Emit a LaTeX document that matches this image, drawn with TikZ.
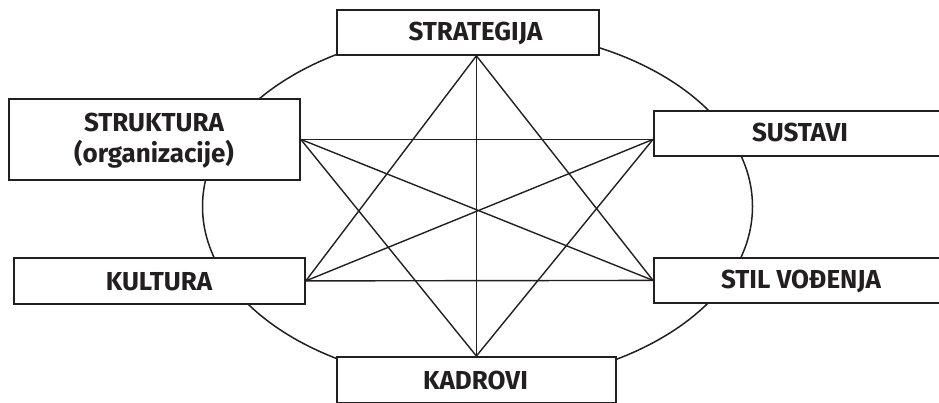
\documentclass[tikz,border=0pt]{standalone}
\usepackage{fontspec}
\setmainfont{Fira Sans}
\definecolor{ink}{HTML}{231F20}
\begin{document}
\begin{tikzpicture}[x=1pt,y=-1pt,
  box/.style={draw=ink, line width=1.8pt, fill=white, inner sep=0pt, anchor=north west},
  lbl/.style={text=ink, font=\bfseries\fontsize{26}{31}\selectfont, align=center, inner sep=0pt},
  link/.style={draw=ink, line width=1.4pt}]
\useasboundingbox (0,0) rectangle (939,403);
% ellipse
\draw[ink, line width=1.5pt] (477.5,206.5) ellipse [x radius=275, y radius=177];
% boxes
\node[box, minimum width=262, minimum height=45] (strategija) at (336,9) {};
\node[box, minimum width=291, minimum height=81] (struktura) at (8,98) {};
\node[box, minimum width=294, minimum height=45] (sustavi) at (653,110) {};
\node[box, minimum width=291, minimum height=46] (kultura) at (13,257) {};
\node[box, minimum width=296, minimum height=45] (stil) at (653,257) {};
\node[box, minimum width=279, minimum height=46] (kadrovi) at (336,356) {};
% texts
\node[lbl] (t-strategija) at (475.5,33.5) {STRATEGIJA};
\node[lbl] (t-struktura) at (154,141) {STRUKTURA\\(organizacije)};
\node[lbl] (t-sustavi) at (800,132) {SUSTAVI};
\node[lbl] (t-kultura) at (159,282) {KULTURA};
\node[lbl] (t-stil) at (801,281.5) {STIL VOĐENJA};
\node[lbl] (t-kadrovi) at (475.5,380) {KADROVI};
% connectors
\coordinate (top) at (strategija.south -| kadrovi.north);
\coordinate (sw) at (sustavi.west |- struktura.east);
\draw[link] (top) -- (kultura.east);
\draw[link] (top) -- (stil.west);
\draw[link] (top) -- (kadrovi.north);
\draw[link] (kadrovi.north) -- (struktura.east);
\draw[link] (kadrovi.north) -- (sw);
\draw[link] (struktura.east) -- (sw);
\draw[link] (kultura.east) -- (stil.west);
\draw[link] (struktura.east) -- (stil.west);
\draw[link] (kultura.east) -- (sw);
\end{tikzpicture}
\end{document}
